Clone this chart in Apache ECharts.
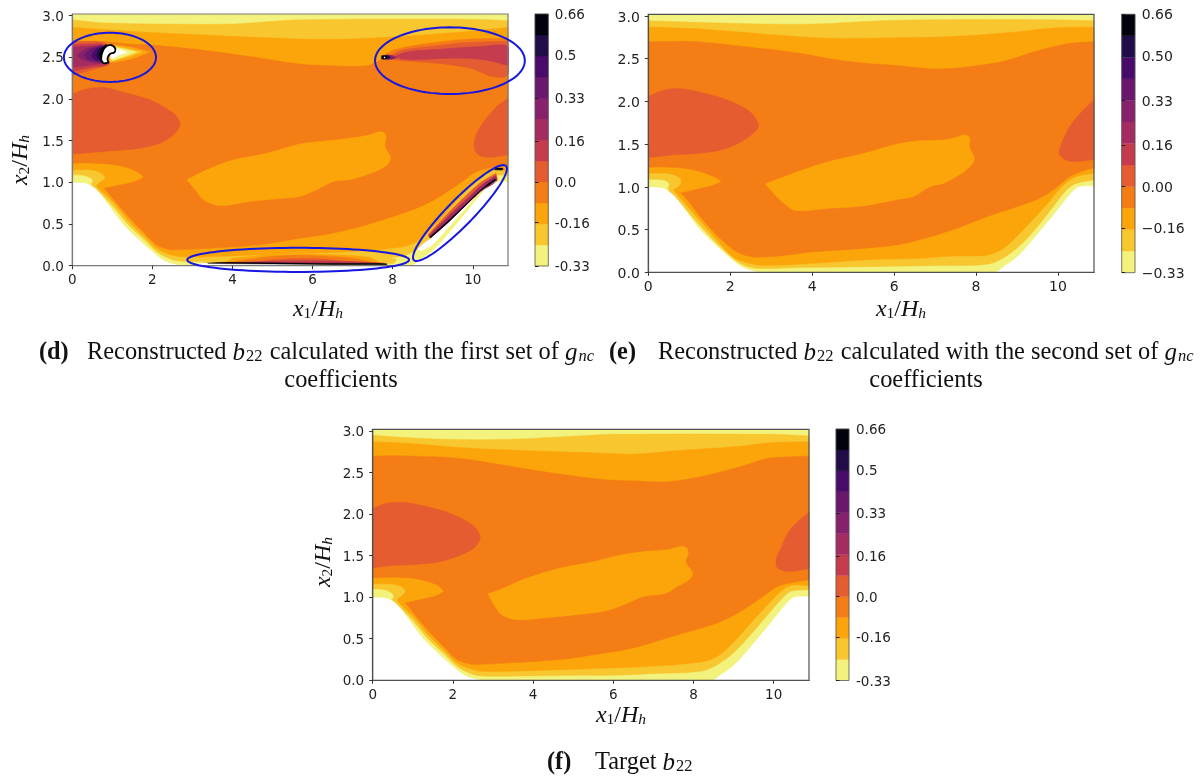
<!DOCTYPE html>
<html><head><meta charset="utf-8">
<style>html,body{margin:0;padding:0;background:#fff}#c{width:1202px;height:776px}</style>
<script src="https://cdn.jsdelivr.net/npm/echarts@6/dist/echarts.min.js"></script>
</head><body><div id="c"></div>
<script>
// ---------- scale ----------
const bandColors=['#f2f27c','#f8c62f','#fca50a','#f57d15','#e55c30','#c43c4e','#a52c60','#87216b','#6a176e','#480b6a','#1f0c48','#02020e'];
const levels=[-0.33,-0.2475,-0.165,-0.0825,0,0.0825,0.165,0.2475,0.33,0.4125,0.495,0.5775,0.66];
const xTicks=[0,2,4,6,8,10];
const yTicks=[0,0.5,1,1.5,2,2.5,3];
const barTicks=[-0.33,-0.16,0,0.16,0.33,0.5,0.66];
const barLabelsD=['-0.33','-0.16','0.0','0.16','0.33','0.5','0.66'];
const barLabelsE=['\u22120.33','\u22120.16','0.00','0.16','0.33','0.50','0.66'];
const barLabelsF=['-0.33','-0.16','0.0','0.16','0.33','0.5','0.66'];
const xMax=10.88, yMax=3.02;

// ---------- wall shape ----------
const hill=[[0,1],[0.35,0.99],[0.62,0.91],[0.85,0.77],[1.27,0.5],[1.72,0.29],[2.1,0.13],[2.35,0.05],[2.64,0.01],[2.72,0],[8.43,0],[8.68,0.07],[9.02,0.19],[9.43,0.41],[9.85,0.65],[10.18,0.85],[10.43,0.98],[10.6,1.01],[10.88,1.01]];
const ceiling=[[0,3.02],[10.88,3.02]];

// ---------- target (f) ----------
const fPaleTop=[[0,2.95],[0.5,2.93],[1.77,2.9],[3.43,2.9],[5.1,2.94],[5.93,2.96],[10,2.96],[10.88,2.94]];
const fPaleLow=[[0,1.1],[0.3,1.09],[0.5,1.04],[0.52,0.99],[0.475,0.97],[0.56,0.94],[0.68,0.88],[1,0.72],[1.4,0.49],[1.8,0.31],[2.1,0.17],[2.35,0.1],[2.64,0.056],[3.43,0.05],[5.1,0.06],[6,0.06],[6.93,0.08],[8.18,0.108],[8.6,0.19],[9.02,0.34],[9.43,0.55],[9.85,0.79],[10.18,0.97],[10.43,1.07],[10.88,1.09]];
const fGoldTop=[[0,2.87],[0.93,2.85],[2.18,2.8],[3.43,2.77],[4.68,2.75],[5.93,2.73],[6.5,2.72],[7.77,2.77],[9.02,2.81],[10,2.86],[10.88,2.87]];
const fGoldLow=[[0,1.16],[0.43,1.16],[0.72,1.13],[0.82,1.07],[0.72,1.01],[0.62,0.97],[0.72,0.9],[1,0.77],[1.4,0.54],[1.8,0.35],[2.1,0.21],[2.35,0.15],[2.68,0.11],[3.43,0.108],[4.68,0.128],[5.93,0.148],[6.93,0.168],[8.18,0.22],[8.6,0.29],[9.02,0.47],[9.43,0.69],[9.85,0.91],[10.18,1.07],[10.43,1.14],[10.88,1.14]];
const fOrangeTop=[[0,2.7],[0.93,2.7],[2.18,2.67],[3.02,2.61],[4.27,2.51],[5.68,2.42],[6.5,2.4],[7.35,2.39],[8.18,2.45],[9.02,2.55],[9.85,2.67],[10.43,2.69],[10.88,2.7]];
const fOrangeLow=[[0,1.23],[0.52,1.24],[1.1,1.22],[1.6,1.15],[1.78,1.07],[1.6,1.02],[1.18,0.97],[0.81,0.93],[0.93,0.87],[1,0.82],[1.4,0.59],[1.8,0.39],[2.1,0.25],[2.35,0.205],[2.56,0.19],[3.43,0.21],[4.68,0.25],[5.68,0.32],[6.5,0.39],[7.35,0.51],[7.77,0.57],[8.6,0.69],[9.18,0.83],[9.68,0.99],[10.1,1.13],[10.52,1.18],[10.88,1.21]];
const fIsland=[[2.87,1.04],[3.27,1.11],[3.85,1.23],[4.68,1.35],[5.52,1.43],[6.1,1.5],[6.77,1.55],[7.35,1.57],[7.68,1.61],[7.83,1.59],[7.87,1.53],[7.81,1.42],[7.98,1.29],[7.89,1.21],[7.6,1.13],[7.27,1.04],[6.77,1.01],[6.27,0.91],[5.77,0.83],[5.1,0.79],[4.27,0.75],[3.6,0.73],[3.22,0.79],[3.02,0.91]];
const fBlobLeft=[[0,2.07],[0.35,2.13],[0.81,2.14],[1.35,2.09],[1.93,2.01],[2.43,1.89],[2.6,1.81],[2.68,1.71],[2.52,1.59],[2.1,1.49],[1.6,1.42],[0.93,1.39],[0.43,1.38],[0,1.35]];
const fBlobRight=[[10.88,2.02],[10.6,1.91],[10.35,1.77],[10.18,1.59],[10.06,1.45],[10.1,1.35],[10.35,1.31],[10.88,1.34]];

// ---------- second set (e) ----------
const ePaleTop=[[0,2.945],[1.18,2.926],[2.8,2.906],[4.03,2.906],[5.65,2.945],[6.88,2.957],[9.89,2.957],[10.88,2.945]];
const ePaleLow=[[0,1.09],[0.37,1.08],[0.51,1.04],[0.49,0.965],[0.65,0.89],[1.18,0.59],[1.75,0.3],[2.24,0.105],[2.64,0.047],[3.62,0.055],[5.25,0.066],[6.88,0.078],[8.1,0.086],[8.5,0.125],[8.99,0.28],[9.4,0.477],[9.89,0.77],[10.21,0.965],[10.45,1.04],[10.88,1.08]];
const eGoldTop=[[0,2.87],[1.18,2.85],[2.8,2.79],[4.43,2.74],[6.63,2.75],[7.45,2.76],[8.67,2.8],[9.89,2.86],[10.88,2.87]];
const eGoldLow=[[0,1.16],[0.45,1.16],[0.73,1.12],[0.81,1.06],[0.73,1],[0.61,0.965],[0.69,0.92],[1.18,0.65],[1.67,0.38],[2.07,0.18],[2.48,0.105],[2.81,0.08],[4.03,0.105],[5.25,0.145],[6.63,0.164],[7.45,0.19],[8.26,0.2],[8.67,0.28],[9.07,0.457],[9.72,0.79],[10.13,1.02],[10.45,1.12],[10.88,1.16]];
const eOrangeTop=[[0,2.7],[1.18,2.7],[2.4,2.64],[3.62,2.57],[4.84,2.47],[6.06,2.42],[7.04,2.38],[7.85,2.41],[8.67,2.47],[9.48,2.59],[10.29,2.68],[10.88,2.7]];
const eOrangeLow=[[0,1.23],[0.53,1.23],[1.1,1.2],[1.59,1.12],[1.79,1.06],[1.59,1.02],[1.18,0.97],[0.79,0.93],[0.98,0.83],[1.34,0.61],[1.75,0.4],[2.16,0.24],[2.56,0.18],[3.2,0.19],[4.03,0.24],[5.25,0.28],[6.06,0.32],[6.63,0.38],[7.45,0.5],[8.26,0.65],[9.48,0.85],[9.89,0.965],[10.29,1.12],[10.7,1.2],[10.88,1.22]];
const eIsland=[[2.85,1.035],[3.21,1.1],[3.78,1.2],[4.43,1.3],[5.25,1.39],[6.06,1.5],[6.63,1.54],[7.2,1.55],[7.53,1.58],[7.69,1.61],[7.84,1.58],[7.84,1.47],[7.96,1.32],[7.77,1.2],[7.45,1.1],[7.2,1.04],[6.88,1],[6.47,0.887],[6.06,0.85],[5.25,0.777],[4.43,0.75],[3.62,0.72],[3.38,0.78],[3.13,0.887]];
const eBlobLeft=[[0,2.06],[0.37,2.13],[0.77,2.15],[1.34,2.1],[1.91,2.02],[2.36,1.92],[2.56,1.84],[2.69,1.71],[2.52,1.61],[2.16,1.5],[1.75,1.43],[1.18,1.39],[0.61,1.375],[0,1.34]];
const eBlobRight=[[10.88,2.02],[10.54,1.86],[10.29,1.71],[10.09,1.51],[10.03,1.39],[10.21,1.31],[10.54,1.3],[10.88,1.32]];

// ---------- first set (d) ----------
const dPaleTop=[[0,2.95],[0.69,2.916],[2.36,2.9],[4.03,2.9],[5.68,2.95],[10,2.956],[10.88,2.94]];
const dGoldTop=[[0,2.86],[1.53,2.81],[3.19,2.77],[5.68,2.72],[6.93,2.72],[8.18,2.75],[9.85,2.81],[10.88,2.86]];
const dOrangeTop=[[0,2.7],[0.8,2.69],[1.4,2.66],[1.94,2.65],[3.19,2.59],[4.44,2.51],[5.68,2.42],[6.52,2.4],[7.35,2.4],[7.7,2.47],[7.81,2.53],[8.1,2.6],[9.1,2.68],[9.93,2.72],[10.88,2.73]];
const dPaleLow=[[0,1.09],[0.32,1.08],[0.51,1.03],[0.48,0.97],[0.56,0.94],[0.68,0.88],[1,0.72],[1.4,0.49],[1.8,0.31],[2.1,0.17],[2.35,0.1],[2.64,0.056],[3.43,0.05],[5.1,0.06],[6,0.06],[6.93,0.08],[8.18,0.108],[8.6,0.19],[9.02,0.34],[9.43,0.55],[9.85,0.79],[10.18,0.97],[10.43,1.07],[10.88,1.09]];
const dGoldLow=[[0,1.15],[0.44,1.15],[0.73,1.11],[0.82,1.05],[0.69,1],[0.6,0.96],[0.72,0.9],[1,0.77],[1.4,0.54],[1.8,0.35],[2.1,0.21],[2.35,0.15],[2.68,0.11],[3.43,0.108],[4.68,0.128],[5.93,0.148],[6.93,0.168],[8.18,0.22],[8.6,0.29],[9.02,0.47],[9.43,0.69],[9.85,0.91],[10.18,1.07],[10.43,1.14],[10.88,1.14]];
const dOrangeLow=[[0,1.23],[0.52,1.23],[1.19,1.2],[1.61,1.13],[1.79,1.06],[1.52,1],[1.11,0.96],[0.8,0.93],[1.02,0.8],[1.4,0.59],[1.8,0.39],[2.1,0.25],[2.36,0.2],[2.56,0.19],[3.43,0.21],[4.68,0.25],[5.68,0.33],[6.5,0.39],[7.35,0.49],[8.6,0.69],[9.18,0.83],[9.68,0.99],[10.1,1.13],[10.52,1.18],[10.88,1.21]];
const dIsland=[[2.86,1.03],[3.36,1.15],[4.03,1.27],[4.86,1.35],[5.68,1.46],[6.18,1.49],[6.93,1.53],[7.43,1.57],[7.68,1.61],[7.83,1.57],[7.81,1.43],[7.95,1.29],[7.81,1.19],[7.35,1.09],[6.93,1.03],[6.52,1.01],[6.1,0.91],[5.68,0.83],[5.27,0.81],[4.44,0.77],[3.69,0.72],[3.28,0.79],[3.07,0.91]];
const dBlobLeft=[[0,2.06],[0.36,2.12],[0.78,2.14],[1.36,2.07],[1.94,1.99],[2.4,1.87],[2.61,1.79],[2.69,1.69],[2.53,1.57],[2.19,1.47],[1.69,1.41],[1.03,1.38],[0,1.34]];
const dBlobRight=[[10.88,2.01],[10.6,1.91],[10.31,1.75],[10.1,1.59],[10.03,1.43],[10.14,1.33],[10.43,1.3],[10.88,1.33]];
// left wake
const wakeAmber=[[0.9,2.66],[1.39,2.63],[1.94,2.565],[1.39,2.47],[0.85,2.43]];
const wakeGold=[[1,2.64],[1.35,2.61],[1.75,2.565],[1.35,2.5],[0.95,2.45]];
const wakePale=[[1,2.63],[1.3,2.6],[1.6,2.565],[1.3,2.51],[1,2.46]];
const wakeBright=[[0.95,2.62],[1.15,2.6],[1.39,2.56],[1.15,2.52],[0.95,2.47]];
const wake4=[[0,2.68],[0.4,2.69],[0.85,2.66],[0.95,2.45],[0.9,2.41],[0.5,2.35],[0,2.28]];
const wake5=[[0,2.65],[0.4,2.66],[0.85,2.64],[0.93,2.43],[0.5,2.38],[0,2.33]];
const wake6=[[0,2.62],[0.4,2.63],[0.8,2.63],[0.9,2.43],[0.5,2.41],[0,2.38]];
const wake7=[[0.12,2.52],[0.25,2.58],[0.5,2.62],[0.8,2.63],[0.88,2.43],[0.5,2.44],[0.25,2.47]];
const wake8=[[0.3,2.52],[0.4,2.58],[0.6,2.62],[0.8,2.63],[0.87,2.43],[0.6,2.45],[0.4,2.47]];
const wake9=[[0.48,2.52],[0.55,2.58],[0.68,2.62],[0.85,2.43],[0.68,2.46],[0.55,2.47]];
const wake10=[[0.6,2.53],[0.65,2.59],[0.75,2.63],[0.85,2.43],[0.72,2.46],[0.65,2.48]];
const wake11=[[0.68,2.53],[0.73,2.6],[0.85,2.66],[0.88,2.43],[0.75,2.44],[0.7,2.48]];
const wakeHole=[[0.73,2.53],[0.8,2.61],[0.94,2.65],[1.07,2.61],[1.05,2.56],[0.94,2.54],[0.88,2.49],[0.9,2.44],[0.78,2.43],[0.72,2.47]];
// right wake
const rw4=[[7.89,2.51],[8.26,2.59],[9.1,2.64],[9.93,2.68],[10.88,2.69],[10.88,2.29],[10.5,2.27],[9.93,2.37],[9.1,2.43],[8.26,2.46],[7.9,2.48]];
const rw5=[[8.06,2.52],[8.43,2.57],[9.26,2.6],[10.18,2.63],[10.88,2.63],[10.88,2.4],[10.27,2.47],[9.51,2.49],[8.5,2.47],[8.2,2.48]];
const rw7=[[7.85,2.53],[8,2.52],[8.12,2.5],[8,2.48],[7.85,2.47]];
const rw10=[[7.72,2.52],[7.92,2.515],[7.94,2.49],[7.72,2.48]];
const rw11=[[7.74,2.52],[7.85,2.52],[7.85,2.48],[7.74,2.48]];
const rwHole=[[7.78,2.505],[7.81,2.505],[7.81,2.49],[7.78,2.49]];
// sloping wall streak
const slope4=[[8.88,0.37],[9.4,0.64],[9.85,0.85],[10.2,1],[10.58,1.11],[10.6,1.02],[10.2,0.89],[9.85,0.73],[9.4,0.52],[8.95,0.33]];
const slope6=[[8.9,0.36],[9.4,0.6],[9.85,0.8],[10.2,0.96],[10.57,1.08],[10.6,1.02],[10.2,0.89],[9.85,0.73],[9.4,0.52],[8.95,0.33]];
const slope11=[[8.92,0.34],[9.4,0.545],[9.85,0.75],[10.2,0.91],[10.55,1.04],[10.58,1.025],[10.2,0.895],[9.85,0.735],[9.4,0.525],[8.95,0.335]];
const slopeHole=[[8.95,0.33],[9.4,0.52],[9.85,0.73],[10.2,0.89],[10.58,1.02],[10.55,1],[10.2,0.9],[9.85,0.7],[9.4,0.46],[9,0.25],[8.72,0.18],[8.62,0.2],[8.75,0.26]];
const slopeDash=[[10.55,1.17],[10.75,1.17],[10.75,1.15],[10.55,1.15]];
// floor streak
const floor1=[[3.2,0.03],[8,0.025],[8.1,0.08],[7,0.14],[4,0.11]];
const floor2=[[3.8,0.03],[7.7,0.03],[7.4,0.1],[6.4,0.135],[5,0.13],[4,0.09]];
const floor3=[[3.8,0.03],[4.6,0.09],[5.4,0.125],[6.2,0.12],[7,0.09],[7.6,0.03]];
const floor4=[[4.4,0.03],[5,0.07],[5.8,0.085],[6.5,0.07],[7.2,0.03]];
const floor5=[[3.6,0.03],[5,0.055],[6,0.06],[7,0.05],[7.8,0.03]];
const floor11=[[3.38,0.03],[3.8,0.04],[5,0.035],[6.2,0.03],[7.1,0.028],[7.85,0.024],[7.85,0.012],[6.5,0.012],[5,0.02],[3.8,0.025]];
const floorHole=[[3,0],[3.2,0.03],[3.8,0.025],[5,0.02],[6.5,0.012],[7,0.008],[7.2,0]];
// highlighted areas: centre, first and second semi-axis, data units
const highlightA=[0.94,2.5,1.15,0,0,0.295];
const highlightB=[9.43,2.46,1.87,0,0,0.4];
const highlightC=[5.64,0.07,2.77,0,0,0.145];
const highlightD=[9.68,0.632,1.15,0.565,0.23,-0.11];

// a layer is a list of contour runs; runs are joined by straight walls
const ring=(top,low)=>[top,low.slice().reverse()];
const one=a=>[a];
const WHITE=-1, OUTLINED=-2;
const layersD=[[0,ring(ceiling,hill)],[1,ring(dPaleTop,dPaleLow)],[2,ring(dGoldTop,dGoldLow)],[3,ring(dOrangeTop,dOrangeLow)],
 [2,one(dIsland)],[4,one(dBlobLeft)],[4,one(dBlobRight)],
 [4,one(wake4)],[5,one(wake5)],[6,one(wake6)],[7,one(wake7)],[8,one(wake8)],[9,one(wake9)],[10,one(wake10)],[11,one(wake11)],
 [2,one(wakeAmber)],[1,one(wakeGold)],[0,one(wakePale)],[WHITE,one(wakeBright)],[OUTLINED,one(wakeHole)],
 [4,one(rw4)],[5,one(rw5)],[7,one(rw7)],[10,one(rw10)],[11,one(rw11)],[WHITE,one(rwHole)],
 [4,one(slope4)],[6,one(slope6)],[WHITE,one(slopeHole)],[11,one(slope11)],[11,one(slopeDash)],
 [1,one(floor1)],[2,one(floor2)],[3,one(floor3)],[4,one(floor4)],[5,one(floor5)],[WHITE,one(floorHole)],[11,one(floor11)]];
const layersE=[[0,ring(ceiling,hill)],[1,ring(ePaleTop,ePaleLow)],[2,ring(eGoldTop,eGoldLow)],[3,ring(eOrangeTop,eOrangeLow)],[2,one(eIsland)],[4,one(eBlobLeft)],[4,one(eBlobRight)]];
const layersF=[[0,ring(ceiling,hill)],[1,ring(fPaleTop,fPaleLow)],[2,ring(fGoldTop,fGoldLow)],[3,ring(fOrangeTop,fOrangeLow)],[2,one(fIsland)],[4,one(fBlobLeft)],[4,one(fBlobRight)]];

// bezier path through the mapped contour vertices (drawing only; adds no data points)
function contourPath(runs,api){
  let d='';
  const f=n=>n.toFixed(2);
  runs.forEach((run,ri)=>{
    const P=run.map(q=>api.coord(q)), n=P.length;
    const tan=i=>{
      const a=P[Math.max(i-1,0)],b=P[i],c=P[Math.min(i+1,n-1)];
      const d1=Math.hypot(b[0]-a[0],b[1]-a[1]),d2=Math.hypot(c[0]-b[0],c[1]-b[1]);
      if(d1===0||d2===0){const s=d1+d2||1;return [(c[0]-a[0])/s,(c[1]-a[1])/s];}
      if((b[0]-a[0])*(c[0]-b[0])+(b[1]-a[1])*(c[1]-b[1])<0) return [0,0];
      return [(c[0]-a[0])/(d1+d2),(c[1]-a[1])/(d1+d2)];
    };
    d+=(ri?'L':'M')+f(P[0][0])+' '+f(P[0][1]);
    for(let i=0;i<n-1;i++){
      const L=Math.hypot(P[i+1][0]-P[i][0],P[i+1][1]-P[i][1])/3,t1=tan(i),t2=tan(i+1);
      d+='C'+f(P[i][0]+t1[0]*L)+' '+f(P[i][1]+t1[1]*L)+' '+f(P[i+1][0]-t2[0]*L)+' '+f(P[i+1][1]-t2[1]*L)+' '+f(P[i+1][0])+' '+f(P[i+1][1]);
    }
  });
  return d+'Z';
}

// ---------- layout ----------
const panels=[
 {layers:layersD,grid:{left:72.3,top:14,width:435.7,height:251.7},bar:{left:535,top:14,width:13.3,height:252},labels:barLabelsD,fs:13.5,bm:6.5,edge:'#7a7a7a',yDrop:3},
 {layers:layersE,grid:{left:648.3,top:14.3,width:445.7,height:258},bar:{left:1121.7,top:14.3,width:13.3,height:258.4},labels:barLabelsE,fs:14,bm:6.7,edge:'#505050',yDrop:4},
 {layers:layersF,grid:{left:372.7,top:429.3,width:436.3,height:251},bar:{left:836,top:429,width:13,height:251.5},labels:barLabelsF,fs:13.5,bm:7,edge:'#505050',yDrop:3}
];
const TXT='#1f1f1f', FONT='DejaVu Sans';
const grid=[],xAxis=[],yAxis=[],series=[];
panels.forEach((p,i)=>{
  grid.push(Object.assign({show:true,borderColor:p.edge,borderWidth:1.2,backgroundColor:'transparent',z:6},p.grid));
  xAxis.push({type:'value',gridIndex:2*i,min:0,max:xMax,z:7,splitLine:{show:false},axisLine:{show:true,onZero:false,lineStyle:{color:p.edge,width:1.2}},
    axisTick:{length:3.5,lineStyle:{color:'#333',width:1},customValues:xTicks},
    axisLabel:{customValues:xTicks,color:TXT,fontFamily:FONT,fontSize:p.fs,margin:8,formatter:v=>String(v)}});
  yAxis.push({type:'value',gridIndex:2*i,min:0,max:yMax,z:7,splitLine:{show:false},axisLine:{show:true,onZero:false,lineStyle:{color:p.edge,width:1.2}},
    axisTick:{length:3.5,lineStyle:{color:'#333',width:1},customValues:yTicks},
    axisLabel:{customValues:yTicks,margin:8.5,rich:{t:{color:TXT,fontFamily:FONT,fontSize:p.fs,padding:[p.yDrop,0,0,0]}},formatter:v=>'{t|'+Number(v).toFixed(1)+'}'}});
  series.push({type:'custom',xAxisIndex:2*i,yAxisIndex:2*i,silent:true,clip:true,animation:false,z:2,
    data:p.layers.map((l,k)=>[k]),
    renderItem:(params,api)=>{
      const l=p.layers[params.dataIndex], b=l[0];
      return {type:'path',shape:{pathData:contourPath(l[1],api)},
        style:b>=0?{fill:bandColors[b],stroke:bandColors[b],lineWidth:0.4}:(b===WHITE?{fill:'#fff'}:{fill:'#fff',stroke:'#000',lineWidth:1.8})};
    }});
  // colour bar
  grid.push(Object.assign({show:true,borderColor:'#555',borderWidth:0.8,backgroundColor:'transparent',z:6},p.bar));
  xAxis.push({type:'value',gridIndex:2*i+1,min:0,max:1,show:false});
  yAxis.push({type:'value',gridIndex:2*i+1,position:'right',min:levels[0],max:levels[12],z:7,splitLine:{show:false},
    axisLine:{show:false},axisTick:{length:3.5,inside:false,lineStyle:{color:'#222',width:1},customValues:barTicks},
    axisLabel:{customValues:barTicks,margin:p.bm,rich:{t:{color:TXT,fontFamily:FONT,fontSize:p.fs,padding:[3,0,0,0]}},
      formatter:v=>{let k=0,d=9;barTicks.forEach((t,j)=>{if(Math.abs(t-v)<d){d=Math.abs(t-v);k=j;}});return '{t|'+p.labels[k]+'}';}}});
  series.push({type:'custom',xAxisIndex:2*i+1,yAxisIndex:2*i+1,silent:true,animation:false,z:2,
    data:bandColors.map((c,k)=>[k]),
    renderItem:(params,api)=>{
      const k=params.dataIndex,lo=levels[k],hi=levels[k+1];
      return {type:'polygon',shape:{points:[[0,lo],[1,lo],[1,hi],[0,hi]].map(q=>api.coord(q))},style:{fill:bandColors[k],stroke:bandColors[k],lineWidth:0.3}};
    }});
});
// highlighted areas on panel d
series.push({type:'custom',xAxisIndex:0,yAxisIndex:0,silent:true,clip:false,animation:false,z:8,
  data:[highlightA,highlightB,highlightC,highlightD],
  renderItem:(params,api)=>{
    const e=[0,1,2,3,4,5].map(j=>api.value(j)),pts=[];
    for(let t=0;t<96;t++){const a=t/96*2*Math.PI;pts.push(api.coord([e[0]+e[2]*Math.cos(a)+e[4]*Math.sin(a),e[1]+e[3]*Math.cos(a)+e[5]*Math.sin(a)]));}
    return {type:'polygon',shape:{points:pts},style:{fill:'none',stroke:'#1717e0',lineWidth:2}};
  }});

// ---------- text ----------
const SERIF='Liberation Serif';
const mainBox={verticalAlign:'top',padding:[0,0,6,0],lineHeight:24,color:'#111',fontFamily:SERIF};
const rich={
  b:Object.assign({},mainBox,{fontWeight:'bold',fontSize:24.3}),
  r:Object.assign({},mainBox,{fontSize:24.4}),
  i:Object.assign({},mainBox,{fontStyle:'italic',fontSize:25}),
  s:{fontFamily:SERIF,fontSize:16.5,color:'#111',verticalAlign:'bottom',lineHeight:16,padding:[0,1,0,1]},
  j:{fontFamily:SERIF,fontStyle:'italic',fontSize:16.5,color:'#111',verticalAlign:'bottom',lineHeight:16,padding:[0,1,0,1]},
  mi:Object.assign({},mainBox,{fontStyle:'italic',fontSize:24}),
  mr:Object.assign({},mainBox,{fontSize:24}),
  ms:{fontFamily:SERIF,fontSize:15.5,color:'#111',verticalAlign:'bottom',lineHeight:16},
  mj:{fontFamily:SERIF,fontStyle:'italic',fontSize:15.5,color:'#111',verticalAlign:'bottom',lineHeight:16}
};
const xName='{mi|x}{ms|1}{mr|/}{mi|H}{mj|h}', yName='{mi|x}{ms|2}{mr|/}{mi|H}{mj|h}';
const text=(x,y,t,align,rot)=>({type:'text',x,y,rotation:rot||0,silent:true,
  style:{text:t,rich,align:align||'center',verticalAlign:'middle',fill:'#111',font:'24px "Liberation Serif"'}});
const graphic=[
 text(318,310,xName),text(901,310,xName),text(621,716,xName),
 text(21,160,yName,'center',Math.PI/2),text(324,562,yName,'center',Math.PI/2),
 text(39,353,'{b|(d)}','left'),text(87,353,'{r|Reconstructed }{i|b}{s|22}{r| calculated with the first set of }{i|g}{j|nc}','left'),
 text(341,381,'{r|coefficients}'),
 text(609,353,'{b|(e)}','left'),text(658,353,'{r|Reconstructed }{i|b}{s|22}{r| calculated with the second set of }{i|g}{j|nc}','left'),
 text(926,381,'{r|coefficients}'),
 text(547,763,'{b|(f)}','left'),text(595,763,'{r|Target }{i|b}{s|22}','left')
];

const chart=echarts.init(document.getElementById('c'),null,{renderer:'canvas'});
chart.setOption({animation:false,backgroundColor:'#fff',grid,xAxis,yAxis,series,graphic:{elements:graphic}});
</script></body></html>
